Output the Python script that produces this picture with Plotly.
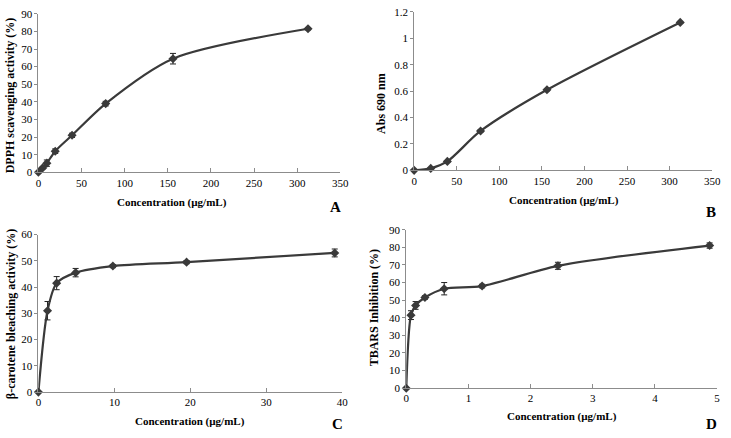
import plotly.graph_objects as go

W, H = 731, 438

# Panel A: DPPH
a_x = [0, 4.9, 9.8, 19.5, 39, 78, 156, 312.5]
a_y = [0, 2.5, 5.2, 12, 21, 39, 64.5, 81.5]
a_err = [0, 0.5, 1.8, 1.3, 1.2, 1.3, 3.0, 0.6]

# Panel B: reducing power
b_x = [0, 19.5, 39, 78, 156, 312.5]
b_y = [0, 0.015, 0.068, 0.298, 0.61, 1.12]
b_err = [0, 0.004, 0.006, 0.008, 0.008, 0.008]

# Panel C: beta-carotene
c_x = [0, 1.2, 2.4, 4.9, 9.8, 19.5, 39]
c_y = [0, 31, 41.5, 45.5, 48, 49.5, 53]
c_err = [0, 3.5, 2.5, 1.6, 0.6, 0.6, 1.5]

# Panel D: TBARS
d_x = [0, 0.076, 0.15, 0.3, 0.61, 1.22, 2.44, 4.88]
d_y = [0, 41.5, 47, 51.5, 56.5, 58, 69.5, 81]
d_err = [0, 2.5, 2.2, 1.0, 3.5, 1.0, 2.0, 1.5]

panels = [
    dict(x=a_x, y=a_y, e=a_err, xr=[0, 350], xd=50, yr=[0, 90], yd=10,
         px=(36, 343), py=(8, 171), ytitle="DPPH scavenging activity (%)",
         ytpos=(8, 92), xtpos=(172, 202), letter="A", lpos=(338, 207), yfmt=None),
    dict(x=b_x, y=b_y, e=b_err, xr=[0, 350], xd=50, yr=[0, 1.2], yd=0.2,
         px=(418, 721), py=(6, 169), ytitle="Abs 690 nm",
         ytpos=(385, 100), xtpos=(570, 200), letter="B", lpos=(720, 212), yfmt="B"),
    dict(x=c_x, y=c_y, e=c_err, xr=[0, 40], xd=10, yr=[0, 60], yd=10,
         px=(36, 345), py=(235, 397), ytitle="β-carotene bleaching activity (%)",
         ytpos=(8, 317), xtpos=(190, 427), letter="C", lpos=(340, 430), yfmt=None),
    dict(x=d_x, y=d_y, e=d_err, xr=[0, 5], xd=1, yr=[0, 90], yd=10,
         px=(410, 726), py=(230, 393), ytitle="TBARS Inhibition (%)",
         ytpos=(377, 310), xtpos=(568, 422), letter="D", lpos=(720, 430), yfmt=None),
]

font_family = "Liberation Serif, Times New Roman, serif"
line_col = "#3a3a3a"
axis_col = "#8c8c8c"

fig = go.Figure()
annotations = []
layout = dict(width=W, height=H, margin=dict(l=0, r=0, t=0, b=0),
              paper_bgcolor="white", plot_bgcolor="white", showlegend=False,
              font=dict(family=font_family, size=11, color="black"))

for i, p in enumerate(panels, start=1):
    xa = "x" if i == 1 else f"x{i}"
    ya = "y" if i == 1 else f"y{i}"
    fig.add_trace(go.Scatter(
        x=p["x"], y=p["y"], xaxis=xa, yaxis=ya, mode="lines+markers",
        line=dict(color=line_col, width=2.2, shape="spline", smoothing=0.8),
        marker=dict(symbol="diamond", size=7, color=line_col),
        error_y=dict(type="data", array=p["e"], visible=True, color="#222222",
                     thickness=1, width=3),
        cliponaxis=False,
    ))
    x0, x1 = p["px"]
    y0, y1 = p["py"]
    xkey = "xaxis" if i == 1 else f"xaxis{i}"
    ykey = "yaxis" if i == 1 else f"yaxis{i}"
    layout[xkey] = dict(domain=[x0 / W, x1 / W], anchor=ya, range=p["xr"],
                        dtick=p["xd"], tick0=0, showgrid=False, zeroline=False,
                        showline=True, linecolor=axis_col, linewidth=1,
                        ticks="inside", ticklen=4, tickcolor=axis_col,
                        ticklabeloverflow="allow",
                        tickfont=dict(family=font_family, size=11, color="black"),
                        fixedrange=True)
    ydict = dict(domain=[1 - y1 / H, 1 - y0 / H], anchor=xa, range=p["yr"],
                 dtick=p["yd"], tick0=0, showgrid=False, zeroline=False,
                 showline=True, linecolor=axis_col, linewidth=1,
                 ticks="outside", ticklen=3, tickcolor=axis_col,
                 ticklabeloverflow="allow",
                 tickfont=dict(family=font_family, size=11, color="black"),
                 fixedrange=True)
    if p["yfmt"] == "B":
        ydict["tickvals"] = [0, 0.2, 0.4, 0.6, 0.8, 1.0, 1.2]
        ydict["ticktext"] = ["0", "0.2", "0.4", "0.6", "0.8", "1", "1.2"]
    layout[ykey] = ydict

    annotations.append(dict(text="<b>" + p["ytitle"] + "</b>", textangle=-90,
                            x=p["ytpos"][0] / W, y=1 - p["ytpos"][1] / H,
                            xref="paper", yref="paper", showarrow=False,
                            xanchor="center", yanchor="middle",
                            font=dict(family=font_family, size=12, color="black")))
    annotations.append(dict(text="<b>Concentration (µg/mL)</b>",
                            x=p["xtpos"][0] / W, y=1 - p["xtpos"][1] / H,
                            xref="paper", yref="paper", showarrow=False,
                            xanchor="center", yanchor="middle",
                            font=dict(family=font_family, size=11, color="black")))
    annotations.append(dict(text="<b>" + p["letter"] + "</b>",
                            x=p["lpos"][0] / W, y=1 - p["lpos"][1] / H,
                            xref="paper", yref="paper", showarrow=False,
                            xanchor="center", yanchor="middle",
                            font=dict(family=font_family, size=15, color="black")))

layout["annotations"] = annotations
fig.update_layout(**layout)
fig.write_html("out.html", config={"displayModeBar": False},
               post_script="document.body.style.margin='0';document.body.style.overflow='hidden';")
